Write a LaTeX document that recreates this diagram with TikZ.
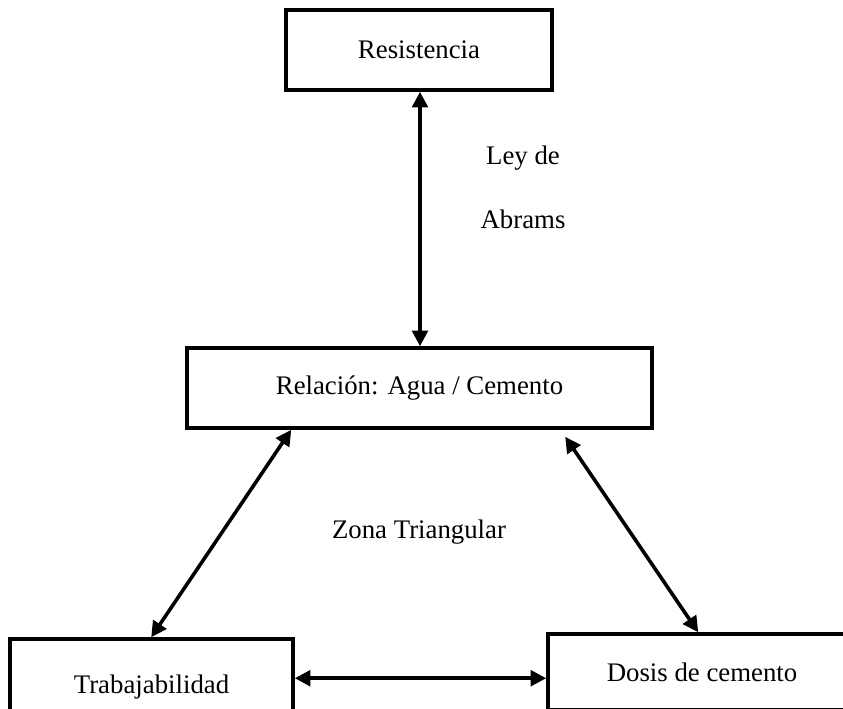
\documentclass[tikz,border=0pt]{standalone}
\usepackage{fontspec}
\setmainfont{Liberation Serif}
\usetikzlibrary{arrows.meta,calc}
\begin{document}
\begin{tikzpicture}[x=0.4478pt,y=-0.4478pt,
  box/.style={draw=black,line width=1.6pt,fill=white,inner sep=0pt,font=\fontsize{12pt}{14pt}\selectfont},
  lbl/.style={inner sep=0pt,font=\fontsize{12pt}{14pt}\selectfont},
  arr/.style={line width=1.6pt,{Triangle[length=7pt,width=7pt]}-{Triangle[length=7pt,width=7pt]}}]
\useasboundingbox (0,0) rectangle (843,708);
\clip (0,0) rectangle (843,708);
\node[box,minimum width=266*0.4478pt,minimum height=80*0.4478pt] (res) at (419,50) {Resistencia};
\node[box,minimum width=465*0.4478pt,minimum height=80*0.4478pt] (rel) at (419.5,388) {Relación: Agua / Cemento};
\node[box,minimum width=283*0.4478pt,minimum height=96*0.4478pt] (trab) at (151.5,687) {Trabajabilidad};
\node[box,minimum width=308*0.4478pt,minimum height=76*0.4478pt] (dos) at (702,672) {Dosis de cemento};
\node[lbl] (ley) at (523,158) {Ley de};
\node[lbl] (abr) at (523,219) {Abrams};
\node[lbl] (zona) at (419,532) {Zona Triangular};
\draw[arr] (res.south -| 420,0) -- (rel.north -| 420,0);
\draw[arr] ($(rel.south west)+(106,0)$) -- ($(trab.north west)+(143,0)$);
\draw[arr] ($(rel.south west)+(380,7)$) -- ($(dos.north west)+(152,0)$);
\draw[arr] ($(trab.north east)+(0,41)$) -- ($(dos.north west)+(0,46)$);
\end{tikzpicture}
\end{document}
